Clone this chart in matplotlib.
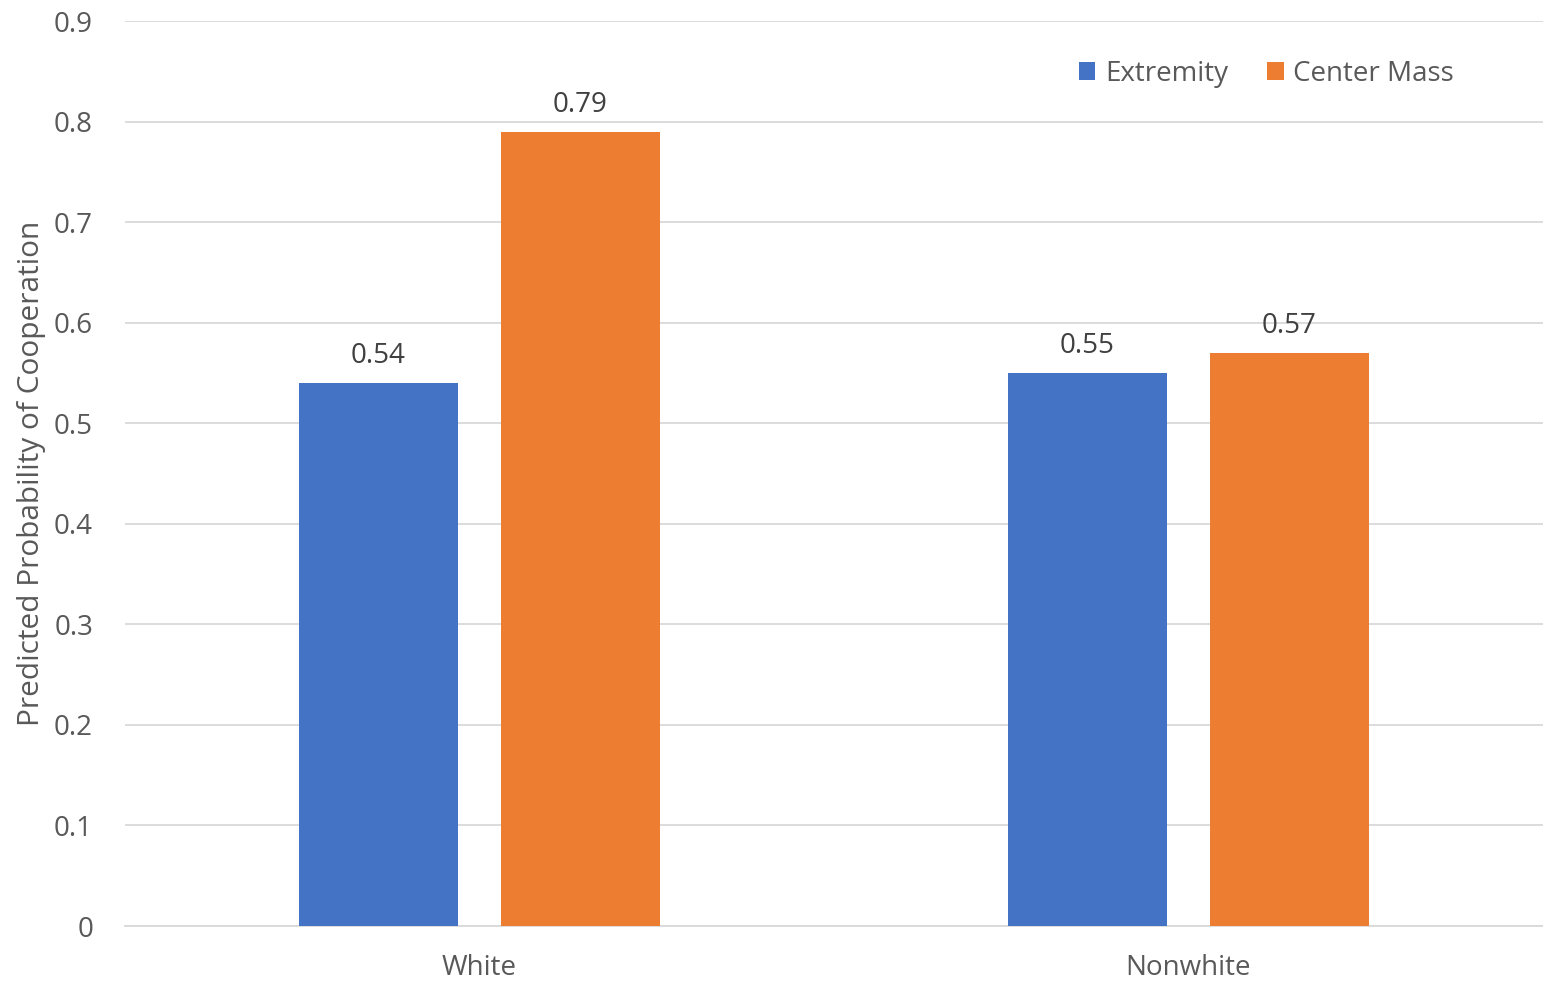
import numpy as np
import matplotlib
matplotlib.use('Agg')
import matplotlib.pyplot as plt

plt.rcParams['font.family'] = ['Open Sans', 'DejaVu Sans']

categories = ['White', 'Nonwhite']
extremity = [0.54, 0.55]
center_mass = [0.79, 0.57]
yticks = [0, 0.1, 0.2, 0.3, 0.4, 0.5, 0.6, 0.7, 0.8, 0.9]

BLUE = '#4472C4'
ORANGE = '#ED7D31'
TXT = '#595959'

fig = plt.figure(figsize=(15.43, 9.82), dpi=100)
ax = fig.add_axes([0.081, 0.057, 0.919, 0.9215])

x = np.arange(len(categories))
w = 0.224
off = 0.1425
b1 = ax.bar(x - off, extremity, w, color=BLUE, label='Extremity', zorder=3)
b2 = ax.bar(x + off, center_mass, w, color=ORANGE, label='Center Mass', zorder=3)

for bars, vals in ((b1, extremity), (b2, center_mass)):
    for b, v in zip(bars, vals):
        ax.text(b.get_x() + b.get_width() / 2, v + 0.013, f'{v:.2f}',
                ha='center', va='bottom', fontsize=20, color='#404040')

ax.set_xlim(-0.5, 1.5)
ax.set_ylim(0, 0.9)
ax.set_yticks(yticks)
ax.set_yticklabels([f'{t:g}' for t in yticks])
ax.set_xticks(x)
ax.set_xticklabels(categories)
ax.tick_params(axis='both', length=0, labelsize=20, colors=TXT)
ax.tick_params(axis='y', pad=23)
ax.tick_params(axis='x', pad=20)
ax.grid(axis='y', color='#D9D9D9', linewidth=1.3, zorder=0)
for s in ['top', 'right', 'left']:
    ax.spines[s].set_visible(False)
ax.spines['bottom'].set_color('#D9D9D9')
ax.spines['bottom'].set_linewidth(1.3)

ax.set_ylabel('Predicted Probability of Cooperation', fontsize=21.5, color=TXT, labelpad=6)

ax.legend(loc='upper right', bbox_to_anchor=(0.955, 0.985), ncol=2, frameon=False,
          fontsize=20, labelcolor=TXT, handlelength=0.6, handleheight=0.6,
          handletextpad=0.35, columnspacing=1.4)

fig.savefig('out.png', dpi=100)
